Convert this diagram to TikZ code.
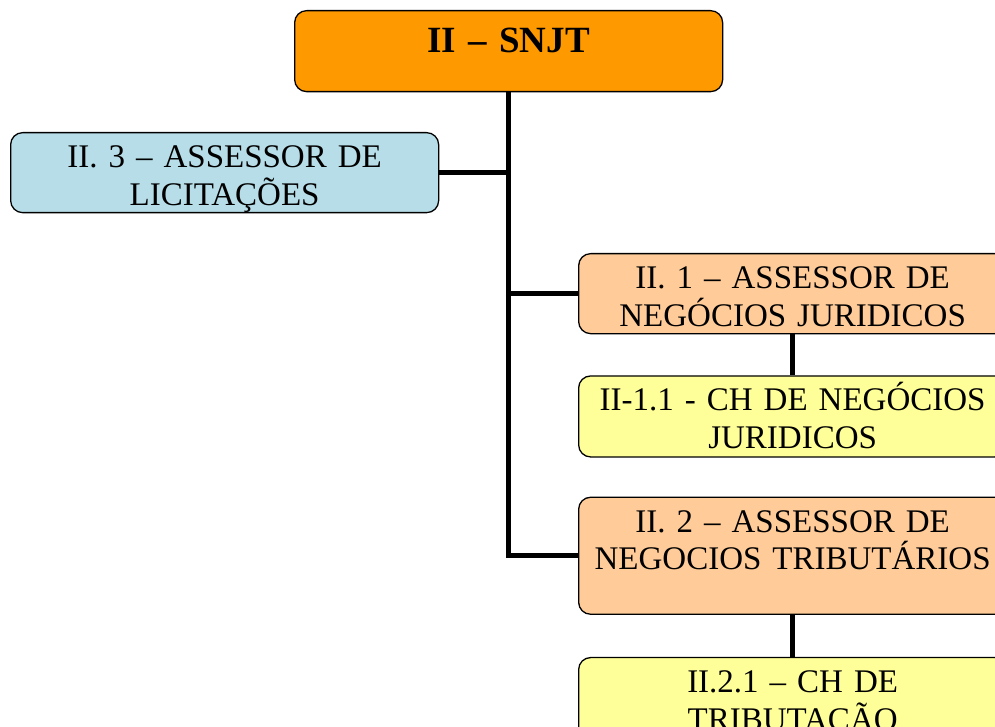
\documentclass[tikz,border=0pt]{standalone}
\usepackage{fontspec}
\setmainfont{Liberation Serif}
\usepackage{tikz}
\usetikzlibrary{calc,arrows,positioning}

\definecolor{snjtorange}{HTML}{FF9900}
\definecolor{licblue}{HTML}{B7DEE8}
\definecolor{assespeach}{HTML}{FFCC99}
\definecolor{chyellow}{HTML}{FFFF99}

\tikzset{
  box/.style={draw=black, line width=1.3pt, rounded corners=12pt, inner sep=0pt,
    text width=428pt, align=center, text height=35pt,
    font=\fontsize{33}{37.5}\selectfont},
  link/.style={line width=5pt, draw=black}
}

\begin{document}
\begin{tikzpicture}[x=1pt, y=-1pt, node distance=41pt]
  \useasboundingbox (0,0) rectangle (995,727);
  \clip (0,0) rectangle (995,727);

  \node[box, fill=snjtorange, anchor=north west, text height=42pt, text depth=39pt,
        font=\fontsize{37}{42}\selectfont\bfseries] (snjt) at (294,10) {II -- SNJT};
  \node[box, fill=licblue, anchor=north west, text depth=45pt] (a3) at (10,132)
        {II. 3 -- ASSESSOR DE\\LICITAÇÕES};
  \node[box, fill=assespeach, anchor=north west, text depth=45pt] (a1) at (578,253)
        {II. 1 -- ASSESSOR DE\\NEGÓCIOS JURIDICOS};
  \node[box, fill=chyellow, below=41pt of a1, text depth=46pt] (c11)
        {II-1.1 - CH DE NEGÓCIOS\\JURIDICOS};
  \node[box, fill=assespeach, below=39pt of c11, text depth=82pt] (a2)
        {II. 2 -- ASSESSOR DE\\NEGOCIOS TRIBUTÁRIOS};
  \node[box, fill=chyellow, below=42pt of a2, text depth=46pt] (c21)
        {II.2.1 -- CH DE\\TRIBUTAÇÃO};

  \draw[link] (snjt.south) |- (a2.west);
  \path[link]
    (a3.east) edge (a3.east -| snjt.south)
    (a1.west) edge (a1.west -| snjt.south)
    (a1) edge (c11)
    (a2) edge (c21)
  ;
\end{tikzpicture}
\end{document}
